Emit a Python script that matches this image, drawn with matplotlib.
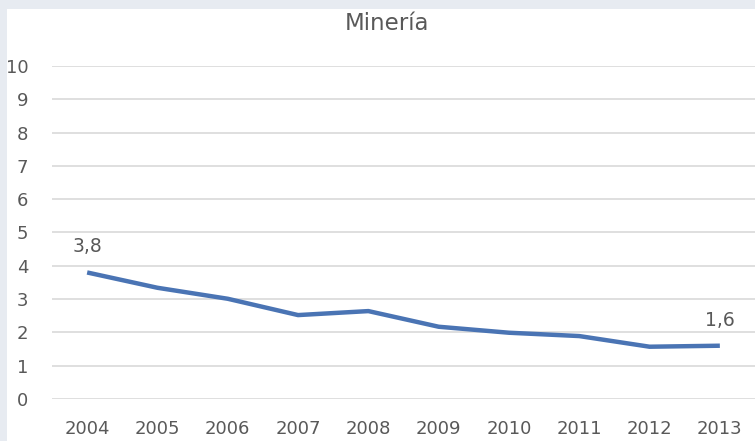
import numpy as np
import matplotlib.pyplot as plt
from matplotlib.patches import Rectangle

#%% data
years = ['2004', '2005', '2006', '2007', '2008', '2009', '2010', '2011', '2012', '2013']
mineria = [3.8, 3.34, 3.01, 2.52, 2.64, 2.17, 1.99, 1.89, 1.57, 1.6]
yticks = list(range(0, 11))
title = 'Minería'

#%% style
plt.rcParams['font.family'] = ['DejaVu Sans']
txtcol = '#595959'
linecol = '#4a74b4'
W, H = 755, 441

fig = plt.figure(figsize=(W/100, H/100), dpi=100)
fig.patch.set_facecolor('#e7ebf1')
# white chart panel
fig.patches.append(Rectangle((7/W, 0), 1 - 7/W, 1 - 9/H, transform=fig.transFigure,
                             facecolor='white', edgecolor='none', zorder=-1))

ax = fig.add_axes([52/W, 1 - 399/H, (755 - 52)/W, (399 - 66)/H])
ax.set_facecolor('none')
ax.set_zorder(2)

x = np.arange(len(years))
ax.plot(x, mineria, color=linecol, lw=3.2, solid_capstyle='butt', zorder=3)

# data labels at first and last point
for i in (0, len(years) - 1):
    ax.annotate(f'{mineria[i]:.1f}'.replace('.', ','), (x[i], mineria[i]),
                xytext=(0, 14.5), textcoords='offset points', ha='center', va='baseline',
                fontsize=13.5, color=txtcol)

ax.set_xlim(-0.5, len(years) - 0.5)
ax.set_ylim(0, 10)
ax.set_xticks(x)
ax.set_xticklabels(years)
ax.set_yticks(yticks)
ax.yaxis.grid(True, color='#d9d9d9', lw=1.2)
ax.set_axisbelow(True)
ax.tick_params(axis='both', length=0, labelsize=13, labelcolor=txtcol)
ax.tick_params(axis='x', pad=15)
ax.tick_params(axis='y', pad=17)
for s in ax.spines.values():
    s.set_visible(False)

fig.text(387/W, 1 - 24/H, title, ha='center', va='center', fontsize=16.5, color=txtcol,
         zorder=3)

plt.savefig('out.png', dpi=100, facecolor=fig.get_facecolor())
